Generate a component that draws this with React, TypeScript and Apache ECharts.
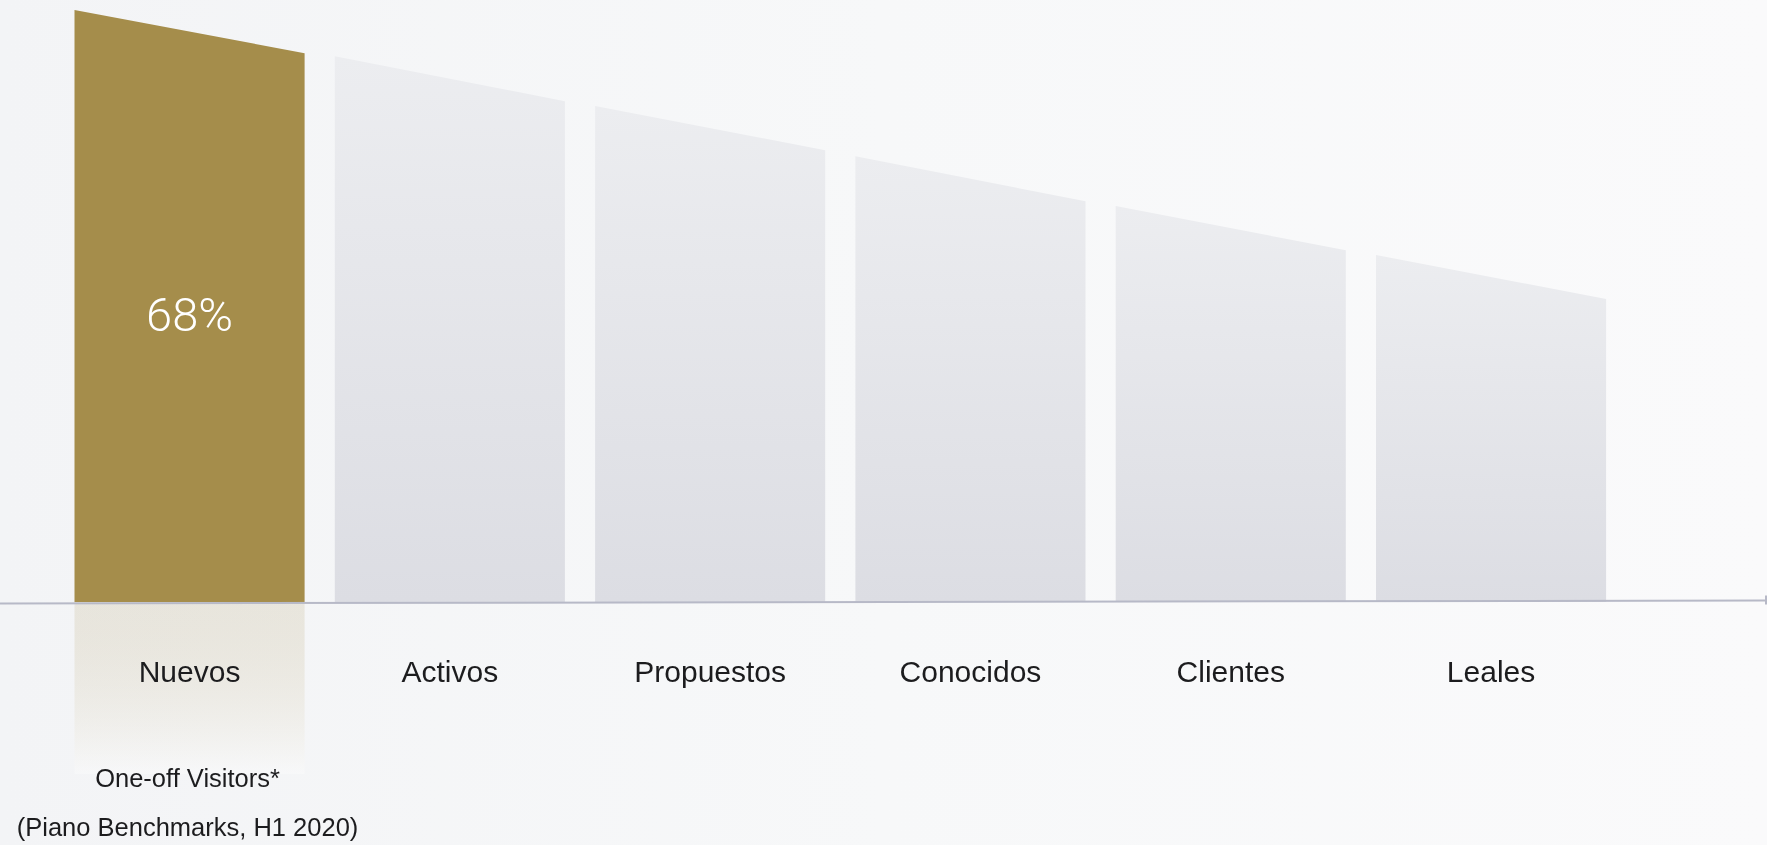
import React, { useEffect, useRef } from "react";
import * as echarts from "echarts";

// Funnel stages (x-axis categories)
const categories = ["Nuevos", "Activos", "Propuestos", "Conocidos", "Clientes", "Leales"];
// Height of each bar's left and right top edge (0–100 scale)
const leftValues = [100, 92.2, 83.8, 75.3, 66.9, 58.6];
const rightValues = [92.7, 84.6, 76.3, 67.7, 59.4, 51.2];
// Value labels (only the highlighted stage shows one)
const valueLabels = ["68%", "", "", "", "", ""];
const highlightIndex = 0;
// Notes under the highlighted stage
const notes = ["One-off Visitors*", "(Piano Benchmarks, H1 2020)"];

const FONT = "'Helvetica Neue', Helvetica, 'Liberation Sans', Arial, sans-serif";
const GOLD = "#a58d4b";

export default function App() {
  const ref = useRef<HTMLDivElement>(null);

  useEffect(() => {
    if (!ref.current) return;
    const chart = echarts.init(ref.current, undefined, { renderer: "svg" });

    const data = categories.map((_, i) => [i, leftValues[i], rightValues[i]]);

    const geom = (api: any) => {
      const i = api.value(0);
      const base = api.coord([i, 0]);
      const pl = api.coord([i, api.value(1)]);
      const pr = api.coord([i, api.value(2)]);
      const band = api.size([1, 0])[0];
      const w = band * 0.884;
      return { i, base, pl, pr, w, x0: base[0] - w / 2, x1: base[0] + w / 2 };
    };

    const option: any = {
      animation: false,
      grid: { left: 59.4, right: 145.8, top: 10, bottom: 243, containLabel: false },
      xAxis: {
        type: "category",
        data: categories,
        z: 5,
        axisLine: { show: false },
        axisTick: { show: false },
        splitLine: { show: false },
        axisLabel: {
          margin: 54,
          fontSize: 30,
          lineHeight: 30,
          color: "#1c1c1e",
          fontFamily: FONT,
        },
      },
      yAxis: {
        type: "value",
        min: 0,
        max: 100,
        show: false,
      },
      graphic: [
        {
          type: "rect",
          silent: true,
          z: -10,
          shape: { x: 0, y: 0, width: 1767, height: 845 },
          style: {
            fill: new echarts.graphic.LinearGradient(0, 0, 1, 0, [
              { offset: 0, color: "#f3f4f6" },
              { offset: 0.5, color: "#f7f8f9" },
              { offset: 1, color: "#fafafb" },
            ]),
          },
        },
        {
          type: "line",
          silent: true,
          z: 10,
          shape: { x1: 0, y1: 603.5, x2: 1766, y2: 600.5 },
          style: { stroke: "#b7b9c7", lineWidth: 2 },
        },
        {
          type: "line",
          silent: true,
          z: 10,
          shape: { x1: 1766, y1: 595.5, x2: 1766, y2: 604.5 },
          style: { stroke: "#b7b9c7", lineWidth: 2 },
        },
      ],
      series: [
        {
          // soft fade under the highlighted stage
          type: "custom",
          z: -1,
          clip: false,
          silent: true,
          encode: { x: 0, y: [1, 2] },
          data,
          renderItem: (params: any, api: any) => {
            const g = geom(api);
            if (g.i !== highlightIndex) return { type: "group", children: [] };
            return {
              type: "rect",
              shape: { x: g.x0, y: g.base[1], width: g.w, height: 172 },
              style: {
                fill: new echarts.graphic.LinearGradient(0, 0, 0, 1, [
                  { offset: 0, color: "rgba(165,141,75,0.15)" },
                  { offset: 1, color: "rgba(255,255,255,0.3)" },
                ]),
              },
            };
          },
        },
        {
          type: "custom",
          z: 2,
          clip: false,
          encode: { x: 0, y: [1, 2] },
          data,
          renderItem: (params: any, api: any) => {
            const g = geom(api);
            const hi = g.i === highlightIndex;
            const children: any[] = [];
            children.push({
              type: "polygon",
              shape: {
                points: [
                  [g.x0, g.base[1]],
                  [g.x0, g.pl[1]],
                  [g.x1, g.pr[1]],
                  [g.x1, g.base[1]],
                ],
              },
              style: {
                fill: hi
                  ? GOLD
                  : new echarts.graphic.LinearGradient(0, 0, 0, 1, [
                      { offset: 0, color: "#ecedf0" },
                      { offset: 1, color: "#dcdde3" },
                    ]),
              },
            });
            const lbl = valueLabels[g.i];
            if (lbl) {
              children.push({
                type: "text",
                style: {
                  x: g.base[0],
                  y: g.base[1] + (g.pl[1] - g.base[1]) * 0.485,
                  text: lbl,
                  fill: "#ffffff",
                  fontSize: 47,
                  fontWeight: 300,
                  fontFamily: "Roboto, 'Liberation Sans', sans-serif",
                  align: "center",
                  verticalAlign: "middle",
                },
              });
            }
            if (hi) {
              notes.forEach((t, k) => {
                children.push({
                  type: "text",
                  style: {
                    x: g.base[0] - 2,
                    y: g.base[1] + 176 + k * 48.7,
                    text: t,
                    fill: "#1c1c1e",
                    fontSize: 25.5,
                    fontFamily: FONT,
                    align: "center",
                    verticalAlign: "middle",
                  },
                });
              });
            }
            return { type: "group", children };
          },
        },
      ],
    };

    chart.setOption(option);
    return () => chart.dispose();
  }, []);

  return (
    <div
      ref={ref}
      style={{ position: "fixed", left: 0, top: 0, width: 1767, height: 845 }}
    />
  );
}
